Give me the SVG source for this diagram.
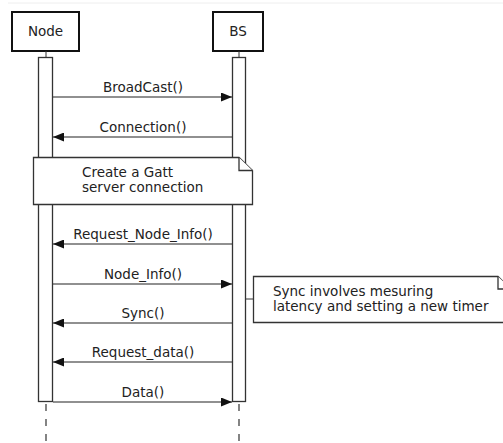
<svg xmlns="http://www.w3.org/2000/svg" width="503" height="443" viewBox="0 0 503 443">
  <style>
    .actor { fill: #fff; stroke: #111; stroke-width: 2; }
    .life { stroke: #333; stroke-width: 1; fill: none; }
    .dash { stroke: #333; stroke-width: 1.2; stroke-dasharray: 7 8; fill: none; }
    .bar { fill: #fff; stroke: #333; stroke-width: 1.3; }
    .msg { stroke: #222; stroke-width: 1.2; fill: none; }
    .note { fill: #fff; stroke: #333; stroke-width: 1.3; }
    text { font-family: "DejaVu Sans", "Noto Sans", sans-serif; font-size: 13.5px; fill: #222; }
    .c { text-anchor: middle; }
  </style>
  <defs>
    <marker id="arrow" markerWidth="11" markerHeight="9" refX="11" refY="4.5" orient="auto" markerUnits="userSpaceOnUse">
      <path d="M0,0 L11,4.5 L0,9 Z" fill="#111"/>
    </marker>
  </defs>
  <rect width="503" height="443" fill="#fff"/>
  <line x1="8" y1="3" x2="503" y2="3" stroke="#eeeeee" stroke-width="1"/>

  <g id="node-node">
    <rect class="actor" x="12" y="12" width="67" height="39"/>
    <text class="c" x="45.5" y="36">Node</text>
    <line class="life" x1="46" y1="51" x2="46" y2="57"/>
    <rect class="bar" x="38.5" y="57.5" width="14" height="344"/>
    <line class="dash" x1="46" y1="404" x2="46" y2="443"/>
  </g>

  <g id="node-bs">
    <rect class="actor" x="213" y="12" width="50" height="39"/>
    <text class="c" x="238" y="36">BS</text>
    <line class="life" x1="239" y1="51" x2="239" y2="57"/>
    <rect class="bar" x="232.5" y="57.5" width="13" height="344"/>
    <line class="dash" x1="239" y1="404" x2="239" y2="443"/>
  </g>

  <g id="connectors">
    <line class="msg" x1="53" y1="97" x2="232" y2="97" marker-end="url(#arrow)"/>
    <text class="c" x="143" y="92">BroadCast()</text>
    <line class="msg" x1="232" y1="137" x2="53" y2="137" marker-end="url(#arrow)"/>
    <text class="c" x="143" y="132">Connection()</text>
    <line class="msg" x1="232" y1="244" x2="53" y2="244" marker-end="url(#arrow)"/>
    <text class="c" x="143" y="239">Request_Node_Info()</text>
    <line class="msg" x1="53" y1="284" x2="232" y2="284" marker-end="url(#arrow)"/>
    <text class="c" x="143" y="279">Node_Info()</text>
    <line class="msg" x1="232" y1="323" x2="53" y2="323" marker-end="url(#arrow)"/>
    <text class="c" x="143" y="318">Sync()</text>
    <line class="msg" x1="232" y1="362" x2="53" y2="362" marker-end="url(#arrow)"/>
    <text class="c" x="143" y="357">Request_data()</text>
    <line class="msg" x1="53" y1="402" x2="232" y2="402" marker-end="url(#arrow)"/>
    <text class="c" x="143" y="397">Data()</text>
    <line class="life" x1="246" y1="299" x2="253" y2="299"/>
  </g>

  <g id="note-gatt">
    <path class="note" d="M33.5,157.5 H239 L252.5,170.5 V204.5 H33.5 Z"/>
    <path class="note" d="M239,157.5 V170.5 H252.5" fill="none"/>
    <text x="82" y="177">Create a Gatt</text>
    <text x="82" y="192">server connection</text>
  </g>

  <g id="note-sync">
    <path class="note" d="M253.5,276.5 H498 L511,289 V322.5 H253.5 Z"/>
    <path class="note" d="M498,276.5 V289 H511" fill="none"/>
    <text x="273" y="296">Sync involves mesuring</text>
    <text x="273" y="311">latency and setting a new timer</text>
  </g>
</svg>
